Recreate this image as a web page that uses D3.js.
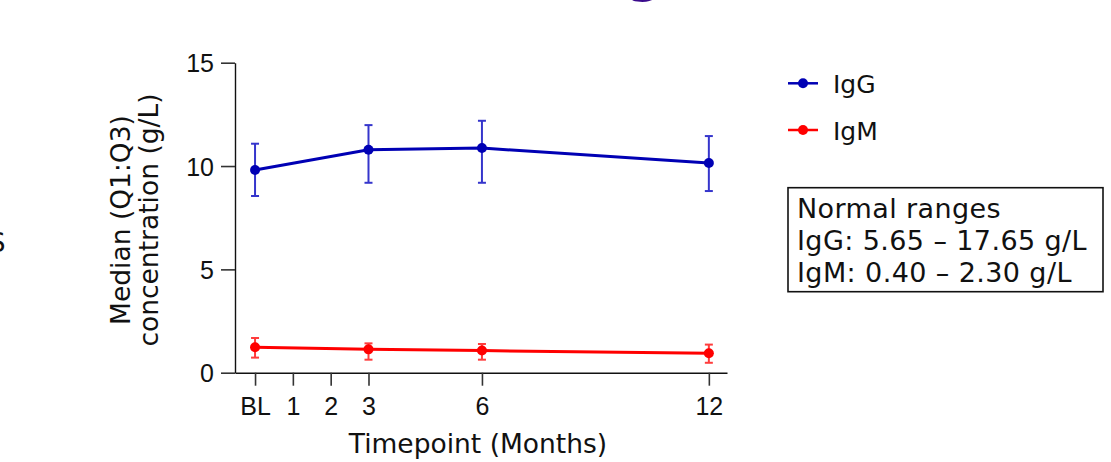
<!DOCTYPE html>
<html>
<head>
<meta charset="utf-8">
<script src="https://cdn.jsdelivr.net/npm/d3@7"></script>
<style>
  body { margin: 0; background: #fff; }
  svg { display: block; font-family: "DejaVu Sans", Verdana, sans-serif; }
</style>
</head>
<body>
<svg id="chart" width="1111" height="462"></svg>
<script>
// timepoints in months (BL = 0)
const months = [0, 3, 6, 12];
const tickMonths = [0, 1, 2, 3, 6, 12];
const tickLabels = ['BL', '1', '2', '3', '6', '12'];
const yTicks = [0, 5, 10, 15];

// medians with Q1 / Q3, g/L
const iggMedian = [9.81, 10.79, 10.87, 10.15];
const iggQ1 = [8.55, 9.19, 9.19, 8.79];
const iggQ3 = [11.08, 11.98, 12.19, 11.45];

const igmMedian = [1.23, 1.13, 1.07, 0.94];
const igmQ1 = [0.73, 0.63, 0.63, 0.48];
const igmQ3 = [1.68, 1.42, 1.39, 1.36];

const seriesNames = ['IgG', 'IgM'];
const rangeLines = ['Normal ranges', 'IgG: 5.65 \u2013 17.65 g/L', 'IgM: 0.40 \u2013 2.30 g/L'];

const series = [
  { name: seriesNames[0], med: iggMedian, lo: iggQ1, hi: iggQ3, line: '#0000b4', err: '#3535cc' },
  { name: seriesNames[1], med: igmMedian, lo: igmQ1, hi: igmQ3, line: '#ff0000', err: '#ff3c3c' }
];

const svg = d3.select('#chart');

const x = d3.scaleLinear().domain([-0.53, 12.48]).range([235, 727]);
const y = d3.scaleLinear().domain([0, 15]).range([372.7, 62.7]);

// y axis
const yAxis = d3.axisLeft(y).tickValues(yTicks).tickSize(14).tickPadding(7).tickSizeOuter(0);
const gy = svg.append('g').attr('transform', 'translate(235,0)').call(yAxis);
gy.select('.domain').attr('stroke', '#111').attr('stroke-width', 1.4);
gy.selectAll('.tick line').attr('stroke', '#333').attr('stroke-width', 1.6);
gy.selectAll('.tick text').attr('font-size', 25).attr('fill', '#111').attr('dy', '0.36em');

// x axis
const xAxis = d3.axisBottom(x).tickValues(tickMonths).tickFormat((d, i) => tickLabels[i])
  .tickSize(13).tickPadding(4).tickSizeOuter(0);
const gx = svg.append('g').attr('transform', 'translate(0,372.7)').call(xAxis);
gx.select('.domain').attr('stroke', '#111').attr('stroke-width', 1.4);
gx.selectAll('.tick line').attr('stroke', '#333').attr('stroke-width', 1.6);
gx.selectAll('.tick text').attr('font-size', 25).attr('fill', '#111').attr('dy', '1.0em');

// axis titles
svg.append('text')
  .attr('x', 478).attr('y', 453)
  .attr('text-anchor', 'middle')
  .attr('font-size', 26.5).attr('fill', '#111')
  .text('Timepoint (Months)');

const yTitle = svg.append('g').attr('transform', 'translate(0,220) rotate(-90)');
yTitle.append('text').attr('x', 0).attr('y', 130)
  .attr('text-anchor', 'middle').attr('font-size', 26.5).attr('fill', '#111')
  .text('Median (Q1:Q3)');
yTitle.append('text').attr('x', 0).attr('y', 158)
  .attr('text-anchor', 'middle').attr('font-size', 26.5).attr('fill', '#111')
  .text('concentration (g/L)');

// series
const line = d3.line().x(d => x(d[0])).y(d => y(d[1]));

series.forEach(s => {
  const g = svg.append('g');
  const pts = months.map((m, i) => ({ m, med: s.med[i], lo: s.lo[i], hi: s.hi[i] }));

  const eb = g.selectAll('.eb').data(pts).enter().append('g').attr('stroke', s.err).attr('stroke-width', 2);
  eb.append('line').attr('x1', d => x(d.m)).attr('x2', d => x(d.m)).attr('y1', d => y(d.lo)).attr('y2', d => y(d.hi));
  eb.append('line').attr('x1', d => x(d.m) - 4).attr('x2', d => x(d.m) + 4).attr('y1', d => y(d.lo)).attr('y2', d => y(d.lo));
  eb.append('line').attr('x1', d => x(d.m) - 4).attr('x2', d => x(d.m) + 4).attr('y1', d => y(d.hi)).attr('y2', d => y(d.hi));

  g.append('path')
    .attr('d', line(pts.map(d => [d.m, d.med])))
    .attr('fill', 'none').attr('stroke', s.line).attr('stroke-width', 3);

  g.selectAll('circle').data(pts).enter().append('circle')
    .attr('cx', d => x(d.m)).attr('cy', d => y(d.med)).attr('r', 5)
    .attr('fill', s.line);
});

// legend
const legend = svg.append('g');
series.forEach((s, i) => {
  const ly = 83.3 + i * 46.7;
  legend.append('line').attr('x1', 788).attr('x2', 818).attr('y1', ly).attr('y2', ly)
    .attr('stroke', s.line).attr('stroke-width', 2.5);
  legend.append('circle').attr('cx', 803).attr('cy', ly).attr('r', 5).attr('fill', s.line);
  legend.append('text').attr('x', 833).attr('y', ly + 9.5)
    .attr('font-size', 25).attr('fill', '#111').text(s.name);
});

// normal ranges box
svg.append('rect')
  .attr('x', 788).attr('y', 187.7).attr('width', 315).attr('height', 104)
  .attr('fill', 'none').attr('stroke', '#111').attr('stroke-width', 1.6);
svg.selectAll('.rng').data(rangeLines).enter().append('text')
  .attr('x', 797).attr('y', (d, i) => 218 + i * 32)
  .attr('font-size', 27).attr('letter-spacing', 0.4).attr('fill', '#111')
  .text(d => d);

// fragments of neighbouring panels cut off at the edges
svg.append('text').attr('x', 627).attr('y', -8)
  .attr('font-size', 50).attr('font-weight', 'bold').attr('fill', '#3a0a8c').text('g');
svg.append('text').attr('x', -11).attr('y', 252)
  .attr('font-size', 26).attr('fill', '#111').text('S');
</script>
</body>
</html>
